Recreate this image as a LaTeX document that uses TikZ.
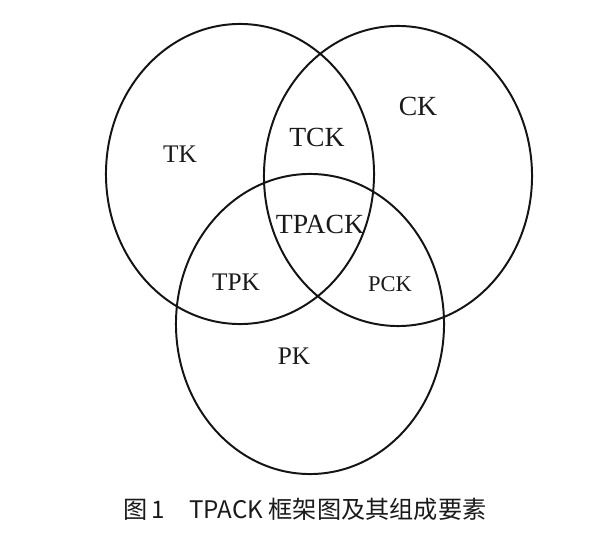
\documentclass[tikz,border=0pt]{standalone}
\usepackage{fontspec}
\setmainfont{Liberation Serif}
\newfontfamily\cjk{Noto Sans CJK SC}
\usepackage{xcolor}
\definecolor{inkline}{HTML}{141414}
\definecolor{inktext}{HTML}{1A1A1A}
\tikzset{
  setring/.style={draw=inkline, line width=1.4pt},
  setlabel/.style={font=\fontsize{18}{20}\selectfont, text=inktext, inner sep=0pt},
  setlabelbig/.style={setlabel, font=\fontsize{19.7}{22}\selectfont},
  setlabelsmall/.style={setlabel, font=\fontsize{16}{18}\selectfont},
  figcaption/.style={font=\cjk\fontsize{17.2}{20}\selectfont, text=inktext, inner sep=0pt},
}
\begin{document}
\begin{tikzpicture}[x=0.025cm, y=-0.025cm]
\useasboundingbox (0,0) rectangle (600,550);
\draw[setring] (240,174) ellipse [x radius=3.35cm, y radius=3.75cm];
\draw[setring] (398,176) ellipse [x radius=3.35cm, y radius=3.75cm];
\draw[setring] (310,324) ellipse [x radius=3.35cm, y radius=3.75cm];
\node[setlabel] (tk) at (180,154) {TK};
\node[setlabelbig] (ck) at (418,106) {CK};
\node[setlabelbig] (tck) at (317,137) {TCK};
\node[setlabelbig] (tpack) at (320,224) {TPACK};
\node[setlabel] (tpk) at (236,282) {TPK};
\node[setlabelsmall] (pck) at (390,284) {PCK};
\node[setlabel] (pk) at (294,356) {PK};
\node[figcaption] (caption) at (305,509) {图\,1\quad TPACK 框架图及其组成要素};
\end{tikzpicture}
\end{document}
